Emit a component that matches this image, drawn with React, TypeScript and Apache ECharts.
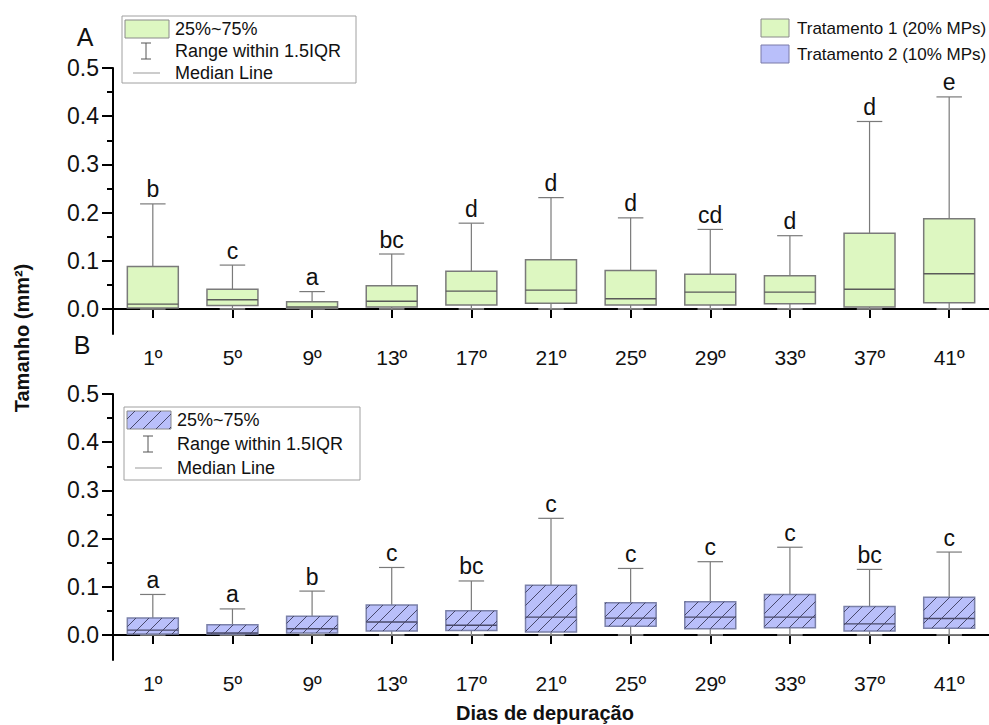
import React, { useEffect, useRef } from "react";
import * as echarts from "echarts";

const categories = ["1º", "5º", "9º", "13º", "17º", "21º", "25º", "29º", "33º", "37º", "41º"];

// Tratamento 1 (20% MPs) - panel A
const lowA = [0.0, 0.0, 0.0, 0.0, 0.0, 0.0, 0.0, 0.0, 0.0, 0.0, 0.0];
const q1A = [0.002, 0.007, 0.001, 0.004, 0.008, 0.012, 0.008, 0.008, 0.011, 0.004, 0.013];
const medA = [0.010, 0.019, 0.004, 0.016, 0.037, 0.039, 0.021, 0.035, 0.035, 0.041, 0.073];
const q3A = [0.088, 0.041, 0.015, 0.048, 0.078, 0.102, 0.080, 0.072, 0.069, 0.157, 0.187];
const highA = [0.218, 0.091, 0.036, 0.114, 0.178, 0.231, 0.189, 0.165, 0.152, 0.389, 0.440];
const lettersA = ["b", "c", "a", "bc", "d", "d", "d", "cd", "d", "d", "e"];

// Tratamento 2 (10% MPs) - panel B
const lowB = [0.0, 0.0, 0.0, 0.0, 0.0, 0.0, 0.0, 0.0, 0.0, 0.0, 0.0];
const q1B = [0.002, 0.002, 0.004, 0.008, 0.009, 0.006, 0.018, 0.013, 0.015, 0.008, 0.014];
const medB = [0.010, 0.004, 0.013, 0.027, 0.020, 0.037, 0.035, 0.037, 0.037, 0.023, 0.034];
const q3B = [0.035, 0.021, 0.039, 0.062, 0.050, 0.103, 0.067, 0.069, 0.084, 0.059, 0.078];
const highB = [0.084, 0.054, 0.091, 0.140, 0.112, 0.242, 0.138, 0.152, 0.182, 0.136, 0.172];
const lettersB = ["a", "a", "b", "c", "bc", "c", "c", "c", "c", "bc", "c"];

const majorTicks = [0, 0.1, 0.2, 0.3, 0.4, 0.5];
const minorTicks = [0.05, 0.15, 0.25, 0.35, 0.45];

const FONT = "'Liberation Sans', Arial, Helvetica, sans-serif";
const GREEN = "#ddf7c1";
const BLUE = "#b9bffa";
const HATCH = "#3a3a5a";

function hatchSegments(x0: number, y0: number, w: number, h: number, s: number) {
  const x1 = x0 + w;
  const y1 = y0 + h;
  const segs: number[][] = [];
  const cStart = Math.ceil((x0 + y0) / s) * s;
  for (let c = cStart; c <= x1 + y1; c += s) {
    const xa = Math.max(x0, c - y1);
    const xb = Math.min(x1, c - y0);
    if (xb - xa > 0.5) segs.push([xa, c - xa, xb, c - xb]);
  }
  return segs;
}

function makeRender(letters: string[], fill: string, border: string, hatch: boolean) {
  return (params: any, api: any) => {
    const i = api.value(0);
    const pLow = api.coord([i, api.value(1)]);
    const pQ1 = api.coord([i, api.value(2)]);
    const pMed = api.coord([i, api.value(3)]);
    const pQ3 = api.coord([i, api.value(4)]);
    const pHigh = api.coord([i, api.value(5)]);
    const bw = api.size([1, 0])[0] * 0.64;
    const x = pLow[0];
    const cw = bw / 2;
    const whisk = { stroke: "#7a7a7a", lineWidth: 1.2 };
    const children: any[] = [
      { type: "line", shape: { x1: x, y1: pQ3[1], x2: x, y2: pHigh[1] }, style: whisk },
      { type: "line", shape: { x1: x - cw / 2, y1: pHigh[1], x2: x + cw / 2, y2: pHigh[1] }, style: whisk },
      { type: "line", shape: { x1: x, y1: pQ1[1], x2: x, y2: pLow[1] }, style: whisk },
      { type: "line", shape: { x1: x - cw / 2, y1: pLow[1], x2: x + cw / 2, y2: pLow[1] }, style: { stroke: "#9a9a9a", lineWidth: 1.5 } },
      {
        type: "rect",
        shape: { x: x - bw / 2, y: pQ3[1], width: bw, height: Math.max(pQ1[1] - pQ3[1], 1) },
        style: { fill, stroke: border, lineWidth: 1.5 },
      },
    ];
    if (hatch) {
      const segs = hatchSegments(x - bw / 2, pQ3[1], bw, pQ1[1] - pQ3[1], 13);
      segs.forEach((s) =>
        children.push({ type: "line", shape: { x1: s[0], y1: s[1], x2: s[2], y2: s[3] }, style: { stroke: HATCH, lineWidth: 0.9 } })
      );
    }
    children.push({
      type: "line",
      shape: { x1: x - bw / 2, y1: pMed[1], x2: x + bw / 2, y2: pMed[1] },
      style: { stroke: hatch ? "#4a4a6a" : "#5a5a5a", lineWidth: 1.4 },
    });
    children.push({
      type: "text",
      style: {
        text: letters[params.dataIndex],
        x,
        y: pHigh[1] - 3,
        align: "center",
        verticalAlign: "bottom",
        fontSize: 23,
        fontFamily: FONT,
        fill: "#111",
      },
    });
    return { type: "group", children };
  };
}

function legendBox(x: number, y: number, w: number, h: number, fill: string, hatch: boolean, rowGap: number) {
  const els: any[] = [];
  els.push({ type: "rect", shape: { x, y, width: w, height: h }, style: { fill: "#fff", stroke: "#a0a0a0", lineWidth: 1 } });
  const sx = x + 3, sy = y + 4, sw = 44, sh = 18;
  els.push({ type: "rect", shape: { x: sx, y: sy, width: sw, height: sh }, style: { fill, stroke: "#8a8a8a", lineWidth: 1 } });
  if (hatch) {
    hatchSegments(sx, sy, sw, sh, 13).forEach((s) =>
      els.push({ type: "line", shape: { x1: s[0], y1: s[1], x2: s[2], y2: s[3] }, style: { stroke: HATCH, lineWidth: 0.9 } })
    );
  }
  const tx = x + 53;
  const r1 = sy + sh / 2;
  const r2 = r1 + rowGap;
  const r3 = r2 + rowGap;
  const txt = (t: string, yy: number) => ({
    type: "text",
    style: { text: t, x: tx, y: yy, align: "left", verticalAlign: "middle", fontSize: 18, fontFamily: FONT, fill: "#111" },
  });
  els.push(txt("25%~75%", r1));
  els.push(txt("Range within 1.5IQR", r2));
  els.push(txt("Median Line", r3));
  const ix = x + 24;
  els.push({ type: "line", shape: { x1: ix, y1: r2 - 8, x2: ix, y2: r2 + 8 }, style: { stroke: "#555", lineWidth: 1 } });
  els.push({ type: "line", shape: { x1: ix - 5, y1: r2 - 8, x2: ix + 5, y2: r2 - 8 }, style: { stroke: "#555", lineWidth: 1 } });
  els.push({ type: "line", shape: { x1: ix - 5, y1: r2 + 8, x2: ix + 5, y2: r2 + 8 }, style: { stroke: "#555", lineWidth: 1 } });
  els.push({ type: "line", shape: { x1: x + 11, y1: r3, x2: x + 38, y2: r3 }, style: { stroke: "#999", lineWidth: 1 } });
  return els;
}

function yAxes(gridIndex: number) {
  const base = {
    type: "value",
    gridIndex,
    min: -0.052,
    max: 0.5,
    position: "left",
    splitLine: { show: false },
  };
  return [
    {
      ...base,
      axisLine: { show: true, lineStyle: { color: "#000", width: 2 } },
      axisTick: { show: true, customValues: majorTicks, length: 11, lineStyle: { color: "#000", width: 2 } },
      axisLabel: {
        show: true,
        customValues: majorTicks,
        formatter: (v: number) => v.toFixed(1),
        fontSize: 23,
        fontFamily: FONT,
        color: "#111",
        margin: 14,
      },
    },
    {
      ...base,
      axisLine: { show: false },
      axisTick: { show: true, customValues: minorTicks, length: 6, lineStyle: { color: "#000", width: 2 } },
      axisLabel: { show: false },
    },
  ];
}

function xAxis(gridIndex: number) {
  return {
    type: "category",
    gridIndex,
    data: categories,
    boundaryGap: true,
    axisLine: { show: true, lineStyle: { color: "#000", width: 2 } },
    axisTick: { show: true, alignWithLabel: true, length: 9, lineStyle: { color: "#000", width: 2 } },
    axisLabel: { fontSize: 21, fontFamily: FONT, color: "#111", margin: 13 },
    splitLine: { show: false },
  };
}

export default function App() {
  const ref = useRef<HTMLDivElement>(null);
  useEffect(() => {
    if (!ref.current) return;
    const chart = echarts.init(ref.current, null, { renderer: "svg" });
    const dataA = categories.map((_, i) => [i, lowA[i], q1A[i], medA[i], q3A[i], highA[i]]);
    const dataB = categories.map((_, i) => [i, lowB[i], q1B[i], medB[i], q3B[i], highB[i]]);
    const graphics: any[] = [
      { type: "text", style: { text: "A", x: 85, y: 37, align: "center", verticalAlign: "middle", fontSize: 25, fontFamily: FONT, fill: "#111" } },
      { type: "text", style: { text: "B", x: 82, y: 345, align: "center", verticalAlign: "middle", fontSize: 25, fontFamily: FONT, fill: "#111" } },
      {
        type: "text",
        x: 22,
        y: 338,
        rotation: Math.PI / 2,
        style: { text: "Tamanho (mm²)", align: "center", verticalAlign: "middle", fontSize: 20, fontWeight: "bold", fontFamily: FONT, fill: "#111" },
      },
      {
        type: "text",
        style: { text: "Dias de depuração", x: 545, y: 713, align: "center", verticalAlign: "middle", fontSize: 20, fontWeight: "bold", fontFamily: FONT, fill: "#111" },
      },
      { type: "rect", shape: { x: 761, y: 19, width: 28, height: 18 }, style: { fill: GREEN, stroke: "#8a8a8a", lineWidth: 1 } },
      { type: "rect", shape: { x: 761, y: 45, width: 28, height: 18 }, style: { fill: BLUE, stroke: "#7a7aa8", lineWidth: 1 } },
      { type: "text", style: { text: "Tratamento 1 (20% MPs)", x: 797, y: 28, align: "left", verticalAlign: "middle", fontSize: 17, fontFamily: FONT, fill: "#111" } },
      { type: "text", style: { text: "Tratamento 2 (10% MPs)", x: 797, y: 54, align: "left", verticalAlign: "middle", fontSize: 17, fontFamily: FONT, fill: "#111" } },
      ...legendBox(122, 16, 234, 67, GREEN, false, 22),
      ...legendBox(124, 407, 236, 73, BLUE, true, 24),
    ];
    chart.setOption({
      animation: false,
      backgroundColor: "#fff",
      grid: [
        { left: 113, top: 68, width: 891, height: 266, containLabel: false },
        { left: 113, top: 394, width: 891, height: 266, containLabel: false },
      ],
      xAxis: [xAxis(0), xAxis(1)],
      yAxis: [...yAxes(0), ...yAxes(1)],
      series: [
        {
          type: "custom",
          name: "Tratamento 1 (20% MPs)",
          xAxisIndex: 0,
          yAxisIndex: 0,
          data: dataA,
          encode: { x: 0, y: [1, 2, 3, 4, 5] },
          renderItem: makeRender(lettersA, GREEN, "#7a7a7a", false),
          clip: false,
          z: 2,
        },
        {
          type: "custom",
          name: "Tratamento 2 (10% MPs)",
          xAxisIndex: 1,
          yAxisIndex: 2,
          data: dataB,
          encode: { x: 0, y: [1, 2, 3, 4, 5] },
          renderItem: makeRender(lettersB, BLUE, "#7a80a8", true),
          clip: false,
          z: 2,
        },
      ],
      graphic: { elements: graphics },
    });
    return () => chart.dispose();
  }, []);
  return (
    <div
      ref={ref}
      style={{ position: "fixed", left: 0, top: 0, width: 989, height: 725, background: "#fff", overflow: "hidden" }}
    />
  );
}
